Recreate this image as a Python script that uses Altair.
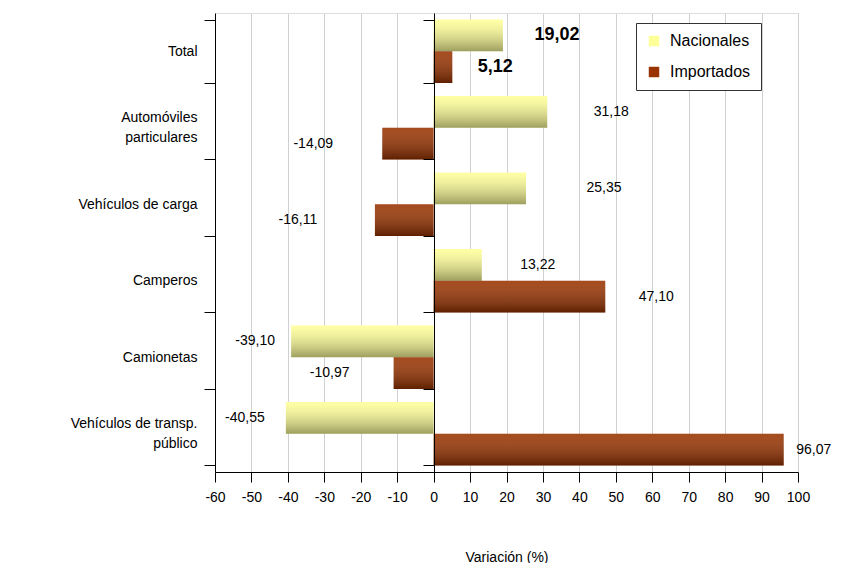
import altair as alt
import pandas as pd

categories = ["Total", "Automóviles\nparticulares", "Vehículos de carga", "Camperos",
              "Camionetas", "Vehículos de transp.\npúblico"]
series = ["Nacionales", "Importados"]
nacionales = [19.02, 31.18, 25.35, 13.22, -39.10, -40.55]
importados = [5.12, -14.09, -16.11, 47.10, -10.97, 96.07]
x_ticks = list(range(-60, 101, 10))
series_colors = ["#FFFF99", "#993300"]

# label placement (pixel offsets from the bar end, layout only)
label_dx_nac = [54, 64, 78, 56, -36, -41]
label_dx_imp = [43, -69, -77, 51, -64, 30]

rows = []
for i, c in enumerate(categories):
    for s, vals, dxs in (("Nacionales", nacionales, label_dx_nac),
                         ("Importados", importados, label_dx_imp)):
        v = vals[i]
        rows.append({"cat": c, "serie": s, "value": v,
                     "label": f"{v:.2f}".replace(".", ","), "dx": dxs[i]})
df = pd.DataFrame(rows)

FONT = "Liberation Sans"
W, H = 583, 459

y_scale = alt.Scale(domain=categories, paddingInner=0.17, paddingOuter=0.085)
yoff = alt.YOffset("serie:N", sort=series,
                   scale=alt.Scale(domain=series, paddingInner=0, paddingOuter=0))
x_scale = alt.Scale(domain=[-60, 100], nice=False, zero=False)

x_axis = alt.Axis(values=x_ticks, title="Variación (%)", grid=True, gridColor="#d0d0d0",
                  gridWidth=1, domainColor="black", tickColor="black", tickSize=10,
                  labelPadding=8, labelFontSize=14, labelFont=FONT, labelColor="black",
                  labelExpr="'' + datum.value",
                  titleFont=FONT, titleFontSize=14, titleFontWeight="normal",
                  titleColor="black", titlePadding=46, labelFlush=False)

y_axis = alt.Axis(title=None, orient="left", domainColor="black", tickColor="black",
                  tickSize=11, tickBand="extent", labelPadding=7, labelFontSize=14,
                  labelFont=FONT, labelColor="black", labelAlign="right",
                  labelExpr="split(datum.label, '\\n')", labelLineHeight=20,
                  labelOffset={"condition": {"test": "indexof(datum.label, '\\n') >= 0",
                                             "value": -10}, "value": 0},
                  grid=False, labelLimit=300)

zero_axis = alt.Axis(title=None, orient="left", offset=-219, labels=False,
                     domainColor="black", tickColor="black", tickSize=11,
                     tickBand="extent", grid=False, minExtent=0, maxExtent=0, zindex=1)

base = alt.Chart(df)

bars = base.mark_bar().encode(
    x=alt.X("value:Q", scale=x_scale, axis=x_axis),
    y=alt.Y("cat:N", scale=y_scale, sort=categories, axis=y_axis),
    yOffset=yoff,
    color=alt.Color("serie:N", scale=alt.Scale(domain=series, range=series_colors),
                    legend=alt.Legend(title=None, orient="none", legendX=421, legendY=10,
                                      strokeColor="#333333", fillColor="white",
                                      padding=10, symbolType="square", symbolSize=110,
                                      symbolStrokeWidth=0, labelFont=FONT,
                                      labelFontSize=16, labelColor="black",
                                      rowPadding=15, labelOffset=8)),
)

shade = alt.LinearGradient(
    gradient="linear", x1=0, y1=0, x2=0, y2=1,
    stops=[alt.GradientStop(offset=0, color="rgba(255,255,255,0.12)"),
           alt.GradientStop(offset=1, color="rgba(0,0,0,0.38)")])

overlay = base.mark_bar(fill=shade).encode(
    x=alt.X("value:Q", scale=x_scale, axis=x_axis),
    y=alt.Y("cat:N", scale=y_scale, sort=categories, axis=zero_axis),
    yOffset=yoff,
)

text_enc = dict(
    x=alt.X("value:Q", scale=x_scale, axis=x_axis),
    y=alt.Y("cat:N", scale=y_scale, sort=categories, axis=None),
    yOffset=yoff,
    text="label:N",
)

labels_total = base.transform_filter(alt.datum.cat == "Total").mark_text(
    font=FONT, fontSize=18, fontWeight="bold", color="black",
    dx=alt.ExprRef(expr="datum.dx")).encode(**text_enc)
labels_rest = base.transform_filter(alt.datum.cat != "Total").mark_text(
    font=FONT, fontSize=14, color="black",
    dx=alt.ExprRef(expr="datum.dx")).encode(**text_enc)

chart = alt.layer(bars, overlay, labels_total, labels_rest).resolve_axis(
    y="independent"
).properties(
    width=W, height=H,
    autosize=alt.AutoSizeParams(type="none"),
    padding={"left": 207, "top": 5, "right": 36, "bottom": 91},
).configure_view(strokeOpacity=0).configure(font=FONT)

chart.save("out.html", embed_options={"renderer": "svg", "actions": False})
